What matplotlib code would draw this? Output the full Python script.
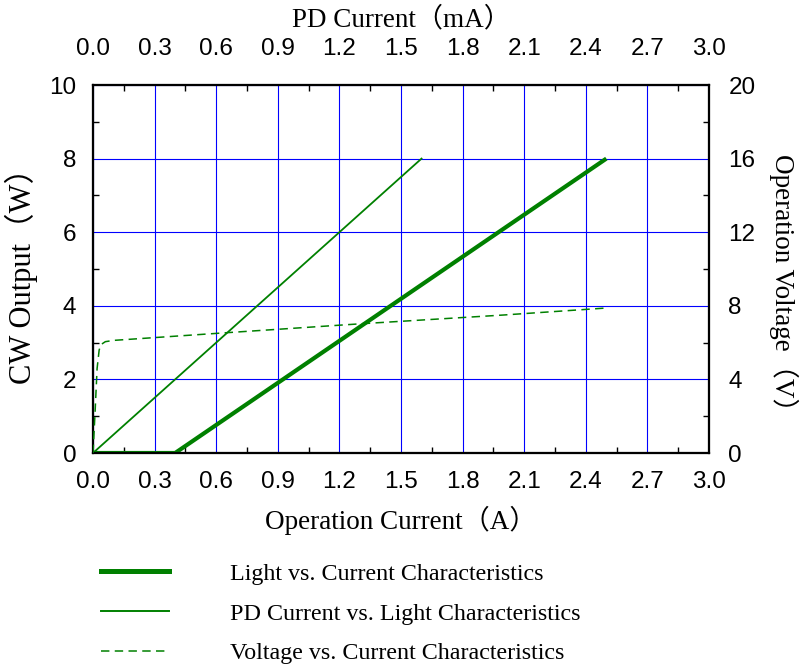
import matplotlib
matplotlib.use("Agg")
import matplotlib.pyplot as plt
from matplotlib.lines import Line2D
from matplotlib.ticker import MultipleLocator

# Light vs. current (operation current A -> CW output W)
li_current = [0.0, 0.4, 2.5]
li_power = [0.0, 0.0, 8.0]

# PD current (mA) vs. light (W)
pd_current = [0.0, 1.6]
pd_power = [0.0, 8.0]

# Voltage vs. current (A -> V)
vi_current = [0.0, 0.01, 0.02, 0.03, 0.04, 0.06, 0.1, 0.6, 1.3, 2.0, 2.5]
vi_voltage = [0.0, 2.2, 4.6, 5.6, 5.9, 6.05, 6.12, 6.5, 7.02, 7.5, 7.88]

x_ticks = [0.0, 0.3, 0.6, 0.9, 1.2, 1.5, 1.8, 2.1, 2.4, 2.7, 3.0]
left_ticks = [0, 2, 4, 6, 8, 10]
right_ticks = [0, 4, 8, 12, 16, 20]

labels = [
    "Light vs. Current Characteristics",
    "PD Current vs. Light Characteristics",
    "Voltage vs. Current Characteristics",
]

GREEN = "#008000"
SANS = ["Liberation Sans", "DejaVu Sans"]
SERIF = ["Liberation Serif", "Noto Sans CJK SC", "DejaVu Serif"]
TICK_FS = 17.5
XLABEL_FS = 19.5
LEGEND_FS = 17.3

fig = plt.figure(figsize=(8.06, 6.68), dpi=100)
ax = fig.add_axes([93 / 806, 1 - 453 / 668, 616 / 806, 368 / 668])
ax_top = ax.twiny()
ax_right = ax.twinx()

ax.plot(li_current, li_power, color=GREEN, lw=3.0, solid_capstyle="butt", zorder=5)
ax_top.plot(pd_current, pd_power, color=GREEN, lw=1.3, zorder=5)
ax_right.plot(vi_current, vi_voltage, color=GREEN, lw=1.1, dashes=(5.5, 3.5), zorder=5)

ax.set_xlim(0, 3.0)
ax.set_ylim(0, 10)
ax_top.set_xlim(0, 3.0)
ax_right.set_ylim(0, 20)

ax.set_xticks(x_ticks)
ax.set_xticklabels([f"{v:.1f}" for v in x_ticks], family=SANS, fontsize=TICK_FS)
ax.set_yticks(left_ticks)
ax.set_yticklabels([str(v) for v in left_ticks], family=SANS, fontsize=TICK_FS)
ax_top.set_xticks(x_ticks)
ax_top.set_xticklabels([f"{v:.1f}" for v in x_ticks], family=SANS, fontsize=TICK_FS)
ax_right.set_yticks(right_ticks)
ax_right.set_yticklabels([str(v) for v in right_ticks], family=SANS, fontsize=TICK_FS)

ax.xaxis.set_minor_locator(MultipleLocator(0.15))
ax.yaxis.set_minor_locator(MultipleLocator(1))
ax_top.xaxis.set_minor_locator(MultipleLocator(0.15))
ax_right.yaxis.set_minor_locator(MultipleLocator(2))

ax.grid(True, which="major", color="#0000ff", lw=0.8)
ax.set_axisbelow(True)

ax.tick_params(axis="x", which="major", length=0, pad=13)
ax.tick_params(axis="y", which="major", length=0, pad=12)
ax_top.tick_params(axis="x", which="major", length=0, pad=18)
ax_right.tick_params(axis="y", which="major", length=0, pad=14)
for a in (ax, ax_top, ax_right):
    a.tick_params(which="minor", direction="in", length=4, width=1, color="black")
    for sp in a.spines.values():
        sp.set_linewidth(1.5)

ax.set_xlabel("Operation Current（A）", family=SERIF, fontsize=XLABEL_FS, labelpad=9)
ax.set_ylabel("CW Output（W）", family=SERIF, fontsize=22, labelpad=8)
ax_top.set_xlabel("PD Current（mA）", family=SERIF, fontsize=XLABEL_FS, labelpad=8)
ax_right.set_ylabel("Operation Voltage（V）", family=SERIF, fontsize=19.5, rotation=270)
ax_right.yaxis.set_label_coords(1.145, 0.445)

handles = [
    Line2D([], [], color=GREEN, lw=3.6),
    Line2D([], [], color=GREEN, lw=1.4),
    Line2D([], [], color=GREEN, lw=1.1, dashes=(5.5, 3.5)),
]
fig.legend(
    handles, labels,
    loc="upper left",
    bbox_to_anchor=(101 / 806, 1 - 563 / 668),
    frameon=False,
    borderpad=0,
    borderaxespad=0,
    handlelength=2.85,
    handletextpad=2.5,
    labelspacing=0.75,
    prop={"family": SERIF, "size": LEGEND_FS},
)

fig.savefig("out.png", dpi=100)
